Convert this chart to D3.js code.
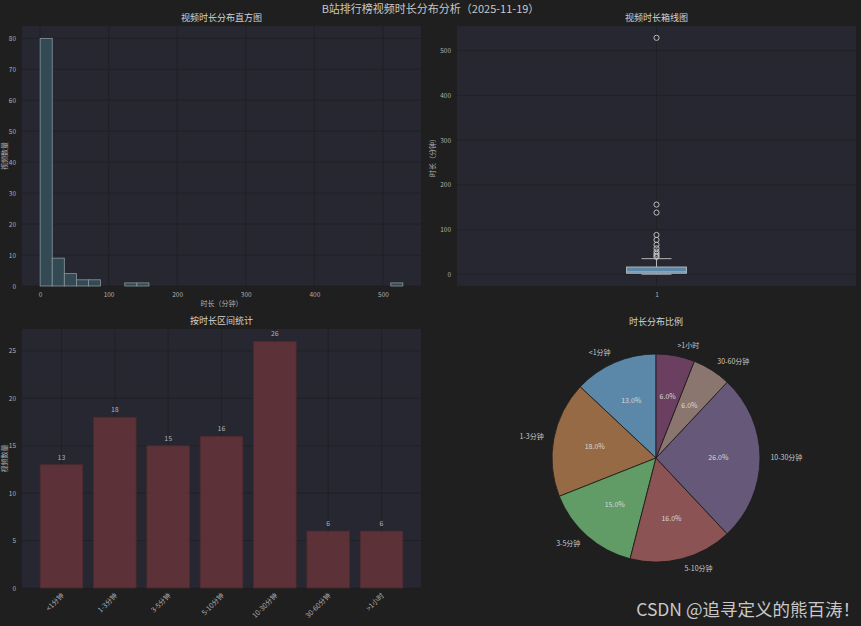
<!DOCTYPE html>
<html><head><meta charset="utf-8">
<script src="https://cdn.jsdelivr.net/npm/d3@7"></script>
<style>body{margin:0;background:#1f1f1f;} svg{display:block;font-family:"Noto Sans CJK SC","Noto Sans",sans-serif;}</style>
</head><body><svg id="c" width="861" height="626"></svg>
<script>
// ---- data ----
const mainTitle = "B站排行榜视频时长分布分析（2025-11-19）";
const histCounts = [80,9,4,2,2,0,0,1,1,0,0,0,0,0,0,0,0,0,0,0,0,0,0,0,0,0,0,0,0,1];
const histRange = [0.3, 529];
const histXTicks = [0,100,200,300,400,500];
const histYTicks = [0,10,20,30,40,50,60,70,80];
const boxStats = [0.3, 2.4, 5.5, 16.3, 35]; // whisker low, q1, median, q3, whisker high
const boxOutliers = [39,42,46,51,58,66,77,88,138,156,529];
const boxYTicks = [0,100,200,300,400,500];
const categories = ["<1分钟","1-3分钟","3-5分钟","5-10分钟","10-30分钟","30-60分钟",">1小时"];
const counts = [13,18,15,16,26,6,6];
const barYTicks = [0,5,10,15,20,25];
const pieColors = ["#5b88a8","#956a44","#619b66","#8b5353","#665878","#8b766f","#6a3f5f"];

// ---- style ----
const FACE = "#262730", GRID = "#1f1f24", TICK = "#b0b0b0", TITLE = "#d2d2d2";
const svg = d3.select("#c");
svg.append("rect").attr("width",861).attr("height",626).attr("fill","#1f1f1f");

svg.append("text").attr("x",430.5).attr("y",12.5).attr("text-anchor","middle")
  .attr("font-size",11).attr("fill","#c8c8c8").text(mainTitle);

function panel(L,R,T,B,title){
  const g = svg.append("g");
  g.append("rect").attr("x",L).attr("y",T).attr("width",R-L).attr("height",B-T).attr("fill",FACE);
  g.append("text").attr("x",(L+R)/2).attr("y",T-5).attr("text-anchor","middle")
    .attr("font-size",9).attr("fill",TITLE).text(title);
  return g;
}
function yLabel(g,x,cy,txt){
  g.append("text").attr("transform",`translate(${x},${cy}) rotate(-90)`).attr("text-anchor","middle")
   .attr("font-size",7).attr("fill",TICK).text(txt);
}
function styleAxis(a){
  a.select(".domain").remove();
  a.selectAll("line").remove();
  a.selectAll("text").attr("fill",TICK).attr("font-size",6.5).attr("font-family",'"Noto Sans CJK SC",sans-serif');
}
function gridLine(g,x1,x2,y1,y2){
  g.append("line").attr("x1",x1).attr("x2",x2).attr("y1",y1).attr("y2",y2).attr("stroke",GRID).attr("stroke-width",0.8);
}

// ---- histogram ----
{
  const L=22,R=421,T=26,B=286;
  const g = panel(L,R,T,B,"视频时长分布直方图");
  const span = histRange[1]-histRange[0];
  const x = d3.scaleLinear().domain([histRange[0]-0.05*span, histRange[1]+0.05*span]).range([L,R]);
  const y = d3.scaleLinear().domain([0, d3.max(histCounts)*1.05]).range([B,T]);
  const bw = span/histCounts.length;
  histXTicks.forEach(t=>gridLine(g,x(t),x(t),T,B));
  histYTicks.forEach(t=>gridLine(g,L,R,y(t),y(t)));
  const bins = histCounts.map((c,i)=>({c, x0:histRange[0]+i*bw, x1:histRange[0]+(i+1)*bw})).filter(b=>b.c>0);
  g.selectAll(".hb").data(bins).enter().append("rect")
    .attr("x",b=>x(b.x0)).attr("width",b=>x(b.x1)-x(b.x0))
    .attr("y",b=>y(b.c)).attr("height",b=>y(0)-y(b.c))
    .attr("fill","#334a55").attr("stroke","#8a979d").attr("stroke-width",0.8);
  const ax = g.append("g").attr("transform",`translate(0,${B+3})`).call(d3.axisBottom(x).tickValues(histXTicks).tickSize(0).tickPadding(3));
  styleAxis(ax);
  const ay = g.append("g").attr("transform",`translate(${L-4},0)`).call(d3.axisLeft(y).tickValues(histYTicks).tickSize(0).tickPadding(2));
  styleAxis(ay);
  g.append("text").attr("x",(L+R)/2).attr("y",306).attr("text-anchor","middle").attr("font-size",7).attr("fill",TICK).text("时长（分钟）");
  yLabel(g,7,(T+B)/2,"视频数量");
}

// ---- box plot ----
{
  const L=457,R=856,T=26,B=286;
  const g = panel(L,R,T,B,"视频时长箱线图");
  const lo = d3.min([boxStats[0],...boxOutliers]), hi = d3.max([boxStats[4],...boxOutliers]);
  const span = hi-lo;
  const y = d3.scaleLinear().domain([lo-0.05*span, hi+0.05*span]).range([B,T]);
  const x = d3.scaleLinear().domain([0.5,1.5]).range([L,R]);
  gridLine(g,x(1),x(1),T,B);
  boxYTicks.forEach(t=>gridLine(g,L,R,y(t),y(t)));
  const [wl,q1,med,q3,wh] = boxStats;
  const bx0 = x(1-0.075), bx1 = x(1+0.075), c0 = x(1-0.0375), c1 = x(1+0.0375);
  const lc = "#b5b5b5";
  g.append("line").attr("x1",x(1)).attr("x2",x(1)).attr("y1",y(q3)).attr("y2",y(wh)).attr("stroke",lc).attr("stroke-width",1);
  g.append("line").attr("x1",x(1)).attr("x2",x(1)).attr("y1",y(q1)).attr("y2",y(wl)).attr("stroke",lc).attr("stroke-width",1);
  g.append("line").attr("x1",c0).attr("x2",c1).attr("y1",y(wh)).attr("y2",y(wh)).attr("stroke",lc).attr("stroke-width",1);
  g.append("line").attr("x1",c0).attr("x2",c1).attr("y1",y(wl)).attr("y2",y(wl)).attr("stroke",lc).attr("stroke-width",1);
  g.append("rect").attr("x",bx0).attr("width",bx1-bx0).attr("y",y(q3)).attr("height",y(q1)-y(q3))
    .attr("fill","#5a87a8").attr("stroke",lc).attr("stroke-width",1);
  g.append("line").attr("x1",bx0).attr("x2",bx1).attr("y1",y(med)).attr("y2",y(med)).attr("stroke","#9fb4c4").attr("stroke-width",1);
  g.selectAll(".ol").data(boxOutliers).enter().append("circle")
    .attr("cx",x(1)).attr("cy",d=>y(d)).attr("r",2.6).attr("fill","none").attr("stroke","#c8c8c8").attr("stroke-width",0.9);
  const ax = g.append("g").attr("transform",`translate(0,${B+3})`).call(d3.axisBottom(x).tickValues([1]).tickFormat(d3.format("d")).tickSize(0).tickPadding(3));
  styleAxis(ax);
  const ay = g.append("g").attr("transform",`translate(${L-4},0)`).call(d3.axisLeft(y).tickValues(boxYTicks).tickSize(0).tickPadding(2));
  styleAxis(ay);
  yLabel(g,435,(T+B)/2,"时长（分钟）");
}

// ---- bar chart ----
{
  const L=22,R=421,T=329,B=588;
  const g = panel(L,R,T,B,"按时长区间统计");
  const n = categories.length;
  const x = d3.scaleLinear().domain([-0.4-0.05*(n-0.2), n-0.6+0.05*(n-0.2)]).range([L,R]);
  const y = d3.scaleLinear().domain([0, d3.max(counts)*1.05]).range([B,T]);
  categories.forEach((c,i)=>gridLine(g,x(i),x(i),T,B));
  barYTicks.forEach(t=>gridLine(g,L,R,y(t),y(t)));
  g.selectAll(".bb").data(counts).enter().append("rect")
    .attr("x",(d,i)=>x(i-0.4)).attr("width",(d,i)=>x(i+0.4)-x(i-0.4))
    .attr("y",d=>y(d)).attr("height",d=>y(0)-y(d))
    .attr("fill","#6a3439").attr("fill-opacity",0.8).attr("stroke","#4a2a2e").attr("stroke-width",0.8);
  g.selectAll(".bl").data(counts).enter().append("text")
    .attr("x",(d,i)=>x(i)).attr("y",d=>y(d)-5).attr("text-anchor","middle")
    .attr("font-size",7).attr("fill",TICK).text(d=>d);
  categories.forEach((c,i)=>{
    g.append("text").attr("transform",`translate(${x(i)+3},${B+8}) rotate(-45)`).attr("text-anchor","end")
     .attr("font-size",7).attr("fill",TICK).text(c);
  });
  const ay = g.append("g").attr("transform",`translate(${L-4},0)`).call(d3.axisLeft(y).tickValues(barYTicks).tickSize(0).tickPadding(2));
  styleAxis(ay);
  yLabel(g,7,(T+B)/2,"视频数量");
}

// ---- pie ----
{
  const cx=656, cy=458, r=104;
  svg.append("text").attr("x",cx).attr("y",325).attr("text-anchor","middle").attr("font-size",9).attr("fill",TITLE).text("时长分布比例");
  const total = d3.sum(counts);
  const arcs = d3.pie().sort(null).startAngle(0).endAngle(-2*Math.PI)(counts);
  const arc = d3.arc().innerRadius(0).outerRadius(r);
  const g = svg.append("g").attr("transform",`translate(${cx},${cy})`);
  g.selectAll("path").data(arcs).enter().append("path").attr("d",arc)
    .attr("fill",(d,i)=>pieColors[i]).attr("stroke","#1a1a1a").attr("stroke-width",0.8);
  arcs.forEach((a,i)=>{
    const m = (a.startAngle+a.endAngle)/2;
    const lx = 1.1*r*Math.sin(m), ly = -1.1*r*Math.cos(m);
    g.append("text").attr("x",lx).attr("y",ly).attr("dy","0.35em")
      .attr("text-anchor", lx>0?"start":"end").attr("font-size",7).attr("fill","#c8c8c8").text(categories[i]);
    const px = 0.6*r*Math.sin(m), py = -0.6*r*Math.cos(m);
    g.append("text").attr("x",px).attr("y",py).attr("dy","0.35em").attr("text-anchor","middle")
      .attr("font-size",7).attr("fill","#d8d8d8").text((counts[i]/total*100).toFixed(1)+"%");
  });
}

// watermark
svg.append("text").attr("x",860).attr("y",616).attr("text-anchor","end").attr("font-size",17.5)
  .attr("fill","#c8c8c8").text("CSDN @追寻定义的熊百涛！");
</script></body></html>
